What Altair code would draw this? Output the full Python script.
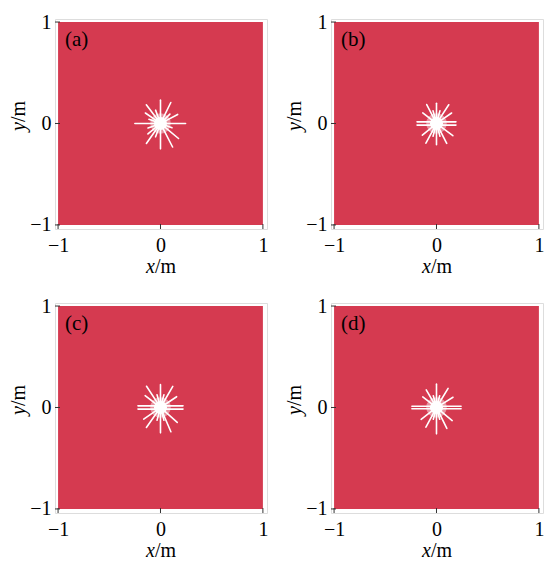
import altair as alt
import pandas as pd
import numpy as np

# ---------------- data ----------------
panel_labels = ["(a)", "(b)", "(c)", "(d)"]
tick_values = [-1, 0, 1]
tick_texts = ["−1", "0", "1"]
field_extent = [-1, 1]          # red field covers the whole square
core_radius = 0.04              # rays start here (m)

# rays: direction (deg), length (m), sideways offset (m) for doubled lines
rays_a_angle = [0, 28, 64, 90, 127, 145, 180, 220, 235, 270, 297, 320, 45, 110, 160, 200, 250, 340]
rays_a_len   = [0.245, 0.19, 0.23, 0.23, 0.23, 0.18, 0.25, 0.16, 0.24, 0.25, 0.26, 0.23, 0.13, 0.14, 0.12, 0.13, 0.14, 0.12]
rays_a_off   = [0, 0, 0, 0, 0, 0, 0, 0, 0, 0, 0, 0, 0, 0, 0, 0, 0, 0]

rays_b_angle = [0, 0, 180, 180, 90, 270, 57, 35, 117, 142, 220, 242, 297, 323, 75, 105, 255, 285]
rays_b_len   = [0.19, 0.19, 0.19, 0.19, 0.20, 0.21, 0.22, 0.18, 0.21, 0.17, 0.18, 0.22, 0.22, 0.20, 0.13, 0.13, 0.13, 0.13]
rays_b_off   = [0.016, -0.016, 0.016, -0.016, 0, 0, 0, 0, 0, 0, 0, 0, 0, 0, 0, 0, 0, 0]

rays_c_angle = [0, 0, 180, 180, 90, 270, 60, 34, 123, 142, 215, 235, 293, 318, 75, 105, 255, 285]
rays_c_len   = [0.22, 0.22, 0.22, 0.22, 0.225, 0.25, 0.24, 0.19, 0.25, 0.19, 0.20, 0.24, 0.26, 0.22, 0.13, 0.13, 0.13, 0.13]
rays_c_off   = [0.016, -0.016, 0.016, -0.016, 0, 0, 0, 0, 0, 0, 0, 0, 0, 0, 0, 0, 0, 0]

rays_d_angle = [0, 0, 180, 180, 90, 270, 59, 32, 120, 142, 218, 242, 296, 320, 75, 105, 255, 285]
rays_d_len   = [0.24, 0.24, 0.24, 0.24, 0.23, 0.26, 0.22, 0.19, 0.20, 0.17, 0.19, 0.22, 0.23, 0.20, 0.12, 0.12, 0.12, 0.12]
rays_d_off   = [0.012, -0.012, 0.012, -0.012, 0, 0, 0, 0, 0, 0, 0, 0, 0, 0, 0, 0, 0, 0]

rays = [
    (rays_a_angle, rays_a_len, rays_a_off),
    (rays_b_angle, rays_b_len, rays_b_off),
    (rays_c_angle, rays_c_len, rays_c_off),
    (rays_d_angle, rays_d_len, rays_d_off),
]

# ---------------- styling ----------------
W, H = 212, 210
XDOM = [-1.03, 1.04]
YDOM = [-1.04, 1.03]
RED = "#D53A50"
FONT = "Liberation Serif"
FS = 20

label_expr = " : ".join(
    [f"datum.value == {v} ? '{t}'" for v, t in zip(tick_values, tick_texts)] + ["datum.label"]
)

xs = alt.Scale(domain=XDOM, nice=False, zero=False)
ys = alt.Scale(domain=YDOM, nice=False, zero=False)
xaxis = alt.Axis(values=tick_values, labelExpr=label_expr, title=None, ticks=False,
                 tickSize=0, domain=False, grid=False, labelPadding=6,
                 labelFont=FONT, labelFontSize=FS, labelColor="black", labelFlush=False)
yaxis = alt.Axis(values=tick_values, labelExpr=label_expr, title=None, ticks=False,
                 tickSize=0, domain=False, grid=False, labelPadding=4,
                 labelFont=FONT, labelFontSize=FS, labelColor="black", labelFlush=False)


def ray_frame(angles, lens, offs):
    a = np.deg2rad(np.array(angles, dtype=float))
    L = np.array(lens, dtype=float)
    o = np.array(offs, dtype=float)
    c, s = np.cos(a), np.sin(a)
    return pd.DataFrame({
        "x": core_radius * c - o * s,
        "y": core_radius * s + o * c,
        "x2": L * c - o * s,
        "y2": L * s + o * c,
    })


def panel(i):
    field = pd.DataFrame({"x": [field_extent[0]], "x2": [field_extent[1]],
                          "y": [field_extent[0]], "y2": [field_extent[1]]})
    rect = alt.Chart(field).mark_rect(color=RED).encode(
        x=alt.X("x:Q", scale=xs, axis=xaxis),
        x2="x2:Q",
        y=alt.Y("y:Q", scale=ys, axis=yaxis),
        y2="y2:Q",
    )
    rf = ray_frame(*rays[i])
    ray_layer = alt.Chart(rf).mark_rule(color="white", strokeWidth=1.6, strokeCap="round").encode(
        x=alt.X("x:Q", scale=xs, axis=xaxis),
        y=alt.Y("y:Q", scale=ys, axis=yaxis),
        x2="x2:Q",
        y2="y2:Q",
    )
    center = pd.DataFrame({"x": [0.0], "y": [0.0]})
    halo = alt.Chart(center).mark_point(filled=True, shape="circle", color="white",
                                        opacity=0.45, size=420).encode(
        x=alt.X("x:Q", scale=xs, axis=xaxis), y=alt.Y("y:Q", scale=ys, axis=yaxis))
    core = alt.Chart(center).mark_point(filled=True, shape="circle", color="white",
                                        opacity=1, size=170).encode(
        x=alt.X("x:Q", scale=xs, axis=xaxis), y=alt.Y("y:Q", scale=ys, axis=yaxis))

    ticks_df = pd.DataFrame({"v": tick_values})
    bticks = alt.Chart(ticks_df).mark_rule(color="#333", strokeWidth=1).encode(
        x=alt.X("v:Q", scale=xs, axis=xaxis), y=alt.value(H), y2=alt.value(H - 5))
    lticks = alt.Chart(ticks_df).mark_rule(color="#333", strokeWidth=1).encode(
        y=alt.Y("v:Q", scale=ys, axis=yaxis), x=alt.value(0), x2=alt.value(5))

    lab = alt.Chart(pd.DataFrame({"t": [panel_labels[i]]})).mark_text(
        font=FONT, fontSize=21, align="left", baseline="middle", color="black").encode(
        x=alt.value(10), y=alt.value(21), text="t:N")

    xt1 = alt.Chart(pd.DataFrame({"t": ["x"]})).mark_text(
        font=FONT, fontSize=FS, fontStyle="italic", align="right", baseline="middle",
        color="black").encode(x=alt.value(W / 2 - 6), y=alt.value(H + 38), text="t:N")
    xt2 = alt.Chart(pd.DataFrame({"t": ["/m"]})).mark_text(
        font=FONT, fontSize=FS, align="left", baseline="middle",
        color="black").encode(x=alt.value(W / 2 - 6), y=alt.value(H + 38), text="t:N")
    yt1 = alt.Chart(pd.DataFrame({"t": ["y"]})).mark_text(
        font=FONT, fontSize=FS, fontStyle="italic", align="right", baseline="middle",
        angle=270, color="black").encode(x=alt.value(-36), y=alt.value(H / 2 - 2), text="t:N")
    yt2 = alt.Chart(pd.DataFrame({"t": ["/m"]})).mark_text(
        font=FONT, fontSize=FS, align="left", baseline="middle",
        angle=270, color="black").encode(x=alt.value(-36), y=alt.value(H / 2 - 2), text="t:N")

    return alt.layer(rect, ray_layer, halo, core, bticks, lticks, lab,
                     xt1, xt2, yt1, yt2).properties(width=W, height=H)


row1 = alt.hconcat(panel(0), panel(1), spacing=15)
row2 = alt.hconcat(panel(2), panel(3), spacing=15)
chart = alt.vconcat(row1, row2, spacing=17).properties(
    padding={"left": 0, "top": 3, "right": 0, "bottom": 0}
).configure_view(stroke="#4a4a4a", strokeWidth=1.5).configure(background="white")

chart.save("out.html", embed_options={"renderer": "svg", "actions": False})
